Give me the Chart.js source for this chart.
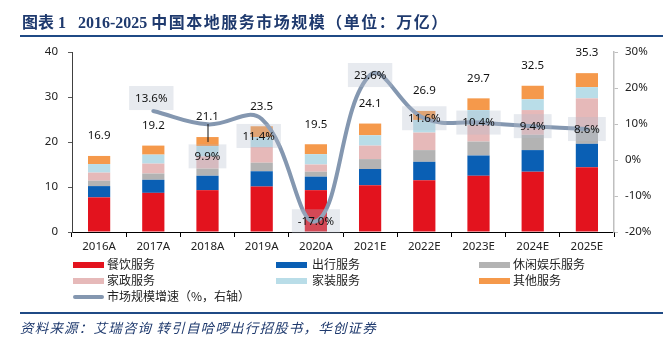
<!DOCTYPE html>
<html><head><meta charset="utf-8">
<script src="https://cdn.jsdelivr.net/npm/chart.js@4/dist/chart.umd.min.js"></script>
<style>
html,body{margin:0;padding:0;background:#fff}
body{width:663px;height:344px;overflow:hidden;position:relative;font-family:"Noto Sans CJK SC","Noto Sans",sans-serif}
#wrap{position:absolute;left:0;top:0;width:663px;height:344px}
#title{position:absolute;left:22px;top:10px;font-weight:bold;font-size:16px;font-family:"Liberation Serif","Noto Sans CJK SC",serif;color:#1f3a6e;white-space:pre;line-height:22px}
#title .cn{font-family:"Noto Sans CJK SC",sans-serif;letter-spacing:1.5px}
#tline{position:absolute;left:20px;right:0;top:35px;height:2px;background:#1f4a85}
#bline{position:absolute;left:20px;right:0;top:312px;height:2px;background:#1f4a85}
#src{position:absolute;left:20px;top:317px;font-size:13.5px;letter-spacing:1.2px;font-style:italic;color:#1f3a6e;line-height:20px;white-space:pre}
.lg{position:absolute;font-size:12px;color:#222;line-height:14px;white-space:pre}
.sw{position:absolute;width:31px;height:6px}
.ln{position:absolute;width:31px;height:4px;border-radius:2px;background:#8497b0}
</style></head>
<body>
<div id="wrap"><canvas id="c" width="663" height="344"></canvas></div>
<div id="title">图表 1   2016-2025 <span class="cn">中国本地服务市场规模（单位：万亿）</span></div>
<div id="tline"></div>
<div id="legend"></div>
<div id="bline"></div>
<div id="src">资料来源：艾瑞咨询 转引自哈啰出行招股书，华创证券</div>
<script>
const categories = ['2016A','2017A','2018A','2019A','2020A','2021E','2022E','2023E','2024E','2025E'];
const dining       = [7.7, 8.7, 9.3, 10.1, 9.3, 10.4, 11.5, 12.5, 13.4, 14.4];
const travel       = [2.5, 2.9, 3.2, 3.4, 3.0, 3.6, 4.1, 4.5, 4.8, 5.2];
const leisure      = [1.2, 1.4, 1.6, 1.9, 1.1, 2.2, 2.6, 3.1, 3.4, 3.6];
const housekeeping = [1.8, 2.2, 2.7, 3.5, 1.6, 3.0, 3.9, 3.7, 5.5, 6.5];
const decoration   = [1.9, 2.0, 2.3, 2.2, 2.3, 2.3, 2.8, 3.3, 2.4, 2.5];
const others       = [1.8, 2.0, 2.0, 2.4, 2.2, 2.6, 2.0, 2.6, 3.0, 3.1];
const totals       = [16.9, 19.2, 21.1, 23.5, 19.5, 24.1, 26.9, 29.7, 32.5, 35.3];
const growth       = [null, 13.6, 9.9, 11.4, -17.0, 23.6, 11.6, 10.4, 9.4, 8.6];
const leftTicks  = [0, 10, 20, 30, 40];
const rightTicks = [-20, -10, 0, 10, 20, 30];

const seriesNames = ['餐饮服务','出行服务','休闲娱乐服务','家政服务','家装服务','其他服务'];
const lineName = '市场规模增速（%，右轴）';
const colors = ['#e3131e','#0a5fb4','#b3b3b3','#e6b9b9','#b9dde8','#f5994b'];
const lineColor = '#8497b0';
const seriesData = [dining, travel, leisure, housekeeping, decoration, others];

// percent label offsets (style)
const pctOffset = [[0,0],[-2,-13],[0,32],[-3,17],[0,0],[0,0],[0,0],[0,0],[0,0],[0,0]];

// legend (HTML)
const lg = document.getElementById('legend');
const colX = [[73,107],[276,312],[479,513]];
const rowY = [264.5, 280.5];
seriesNames.forEach((n,i)=>{
  const col = i%3, row = Math.floor(i/3);
  const sw = document.createElement('div'); sw.className='sw';
  sw.style.left=colX[col][0]+'px'; sw.style.top=(rowY[row]-3)+'px'; sw.style.background=colors[i];
  lg.appendChild(sw);
  const t = document.createElement('div'); t.className='lg'; t.textContent=n;
  t.style.left=colX[col][1]+'px'; t.style.top=(rowY[row]-7.5)+'px';
  lg.appendChild(t);
});
{
  const l = document.createElement('div'); l.className='ln'; l.style.left='73px'; l.style.top='294.5px'; lg.appendChild(l);
  const t = document.createElement('div'); t.className='lg'; t.textContent=lineName; t.style.left='107px'; t.style.top='289px'; lg.appendChild(t);
}

const labelPlugin = {
  id:'labelPlugin',
  afterDatasetsDraw(chart){
    const ctx = chart.ctx, x = chart.scales.x, y = chart.scales.y, y1 = chart.scales.y1;
    ctx.save();
    ctx.font = '11.5px "Noto Sans","Noto Sans CJK SC",sans-serif';
    ctx.textAlign='center'; ctx.textBaseline='middle';
    totals.forEach((v,i)=>{
      const px = x.getPixelForValue(i), top = y.getPixelForValue(v);
      const ly = top - 20;
      ctx.fillStyle='#111';
      ctx.fillText(v.toFixed(1), px, ly);
      if (i===2){
        ctx.strokeStyle='#111'; ctx.lineWidth=1;
        ctx.beginPath(); ctx.moveTo(px+0.5, ly+7); ctx.lineTo(px+0.5, top+5); ctx.stroke();
      }
    });
    growth.forEach((v,i)=>{
      if (v===null) return;
      const px = x.getPixelForValue(i)+pctOffset[i][0], py = y1.getPixelForValue(v)+pctOffset[i][1];
      const txt = v.toFixed(1)+'%';
      const w = ctx.measureText(txt).width + 12, h = 24;
      ctx.fillStyle='rgba(180,190,205,0.32)';
      ctx.fillRect(px-w/2, py-h/2, w, h);
      ctx.fillStyle='#111';
      ctx.fillText(txt, px, py+0.5);
    });
    ctx.restore();
  }
};

const datasets = seriesData.map((d,i)=>({
  type:'bar', label:seriesNames[i], data:d, backgroundColor:colors[i],
  borderWidth:0, yAxisID:'y', order:2, stack:'s',
  categoryPercentage:1, barPercentage:0.41
}));
datasets.push({
  type:'line', label:lineName, data:growth, yAxisID:'y1', order:1,
  borderColor:lineColor, borderWidth:4, tension:0.4, pointRadius:0, fill:false,
  borderCapStyle:'round', spanGaps:false
});

new Chart(document.getElementById('c'), {
  data:{labels:categories, datasets},
  options:{
    responsive:false, animation:false, devicePixelRatio:1,
    layout:{padding:{left:0,right:0,top:52,bottom:82}},
    plugins:{legend:{display:false}, tooltip:{enabled:false}},
    scales:{
      x:{
        stacked:true, offset:true,
        grid:{offset:true, drawOnChartArea:false, tickLength:5, color:'#000', tickColor:'#000'},
        border:{color:'#000', width:1},
        ticks:{color:'#222', font:{size:11.5, family:'"Noto Sans","Noto Sans CJK SC",sans-serif'}, padding:3, maxRotation:0},
        afterFit(s){ s.height = 30; }
      },
      y:{
        stacked:true, position:'left', min:0, max:40,
        afterBuildTicks(s){ s.ticks = leftTicks.map(v=>({value:v})); },
        grid:{drawOnChartArea:false, tickLength:4, color:'#595959'},
        border:{color:'#404040', width:1},
        ticks:{color:'#222', font:{size:11.5, family:'"Noto Sans",sans-serif'}, padding:10},
        afterFit(s){ s.width = 72; }
      },
      y1:{
        stacked:false, position:'right', min:-20, max:30,
        afterBuildTicks(s){ s.ticks = rightTicks.map(v=>({value:v})); },
        grid:{drawOnChartArea:false, tickLength:4, color:'#bfbfbf'},
        border:{color:'#bfbfbf', width:1.5},
        ticks:{color:'#222', font:{size:11.5, family:'"Noto Sans",sans-serif'}, padding:7, callback:v=>v+'%'},
        afterFit(s){ s.width = 49; }
      }
    }
  },
  plugins:[labelPlugin]
});
</script>
</body></html>
